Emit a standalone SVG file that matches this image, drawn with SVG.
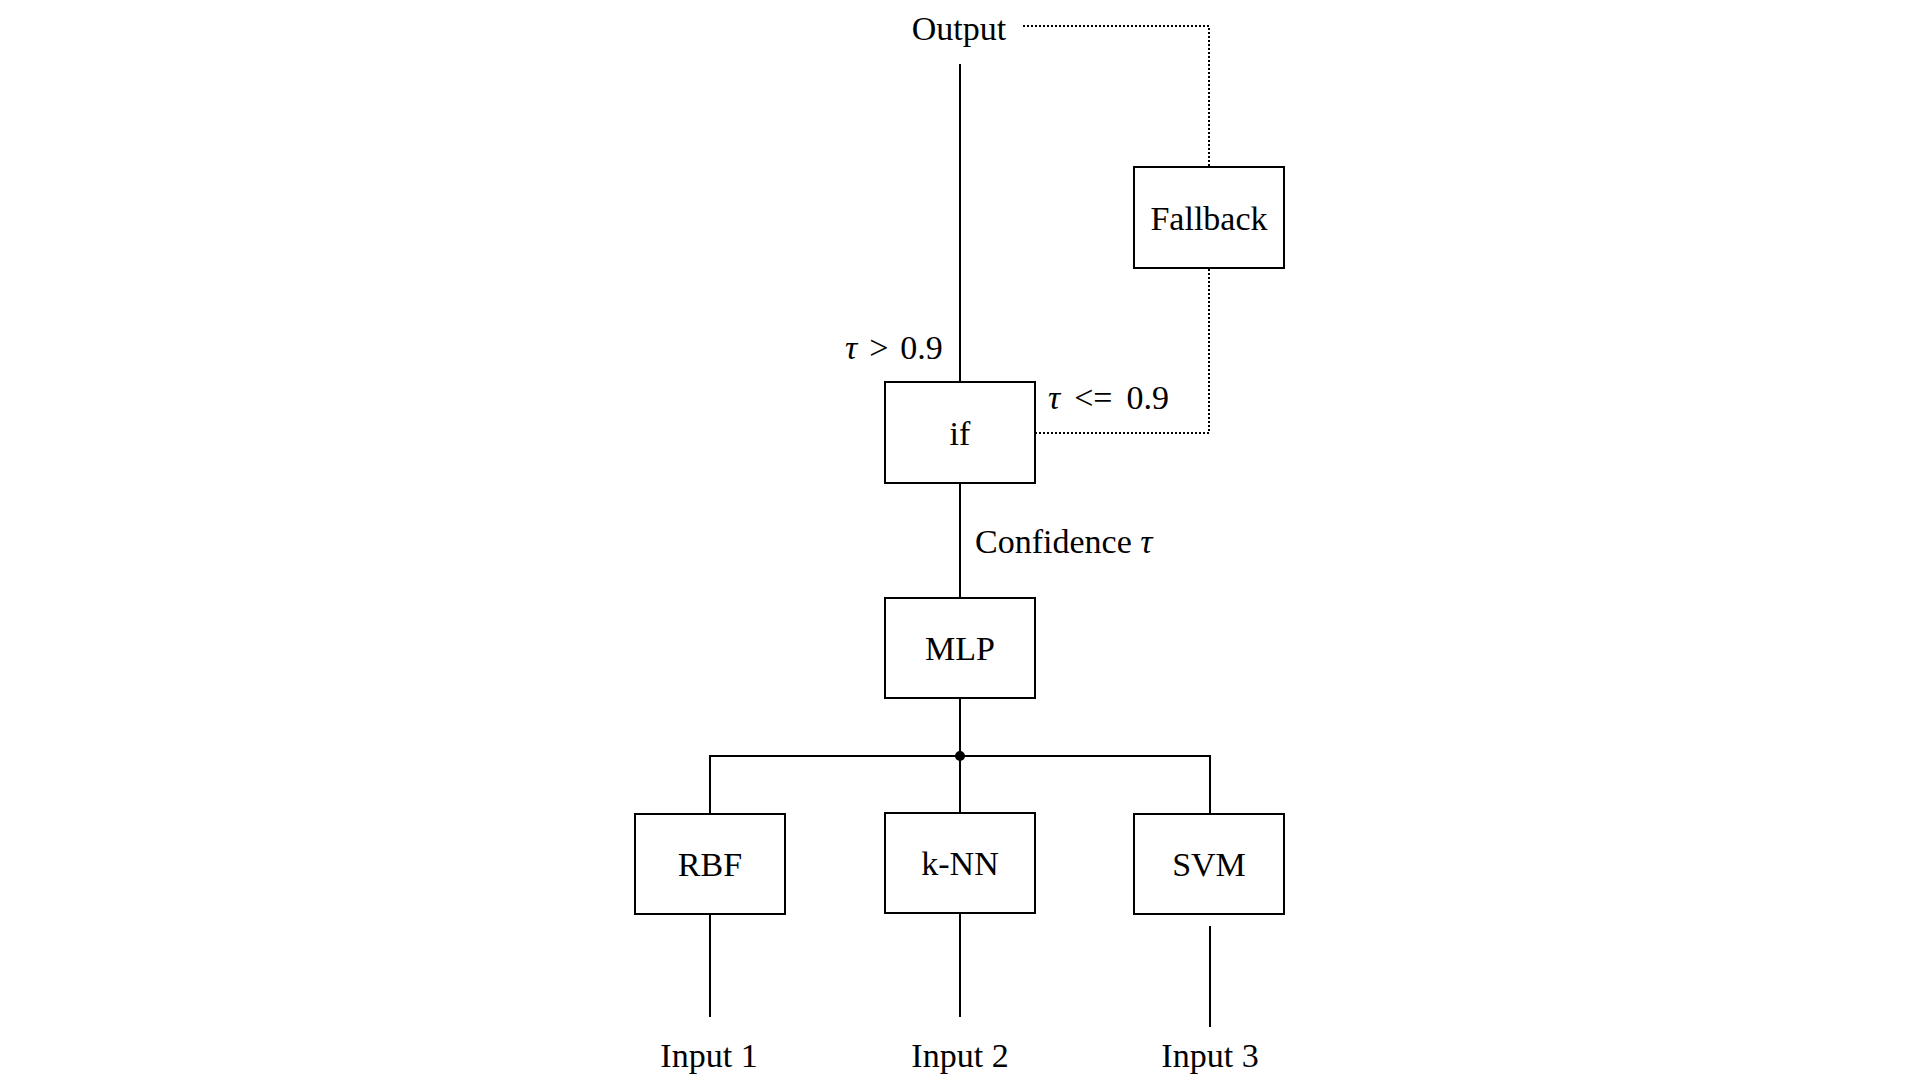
<svg xmlns="http://www.w3.org/2000/svg" width="1920" height="1080" viewBox="0 0 1920 1080">
<style>
text{font-family:"Liberation Serif","Times New Roman",serif;font-size:34px;fill:#000}
.box{fill:#fff;stroke:#000;stroke-width:2}
.c{text-anchor:middle}
.solid{fill:none;stroke:#000;stroke-width:2}
.dot{fill:none;stroke:#000;stroke-width:2;stroke-dasharray:2 2}
</style>
<rect width="1920" height="1080" fill="#fff"/>
<g id="connectors">
<line class="solid" x1="960" y1="64" x2="960" y2="382"/>
<path class="dot" d="M1023 26 H1209 V167"/>
<path class="dot" d="M1035 433 H1209 V268"/>
<line class="solid" x1="960" y1="483" x2="960" y2="598"/>
<line class="solid" x1="960" y1="698" x2="960" y2="813"/>
<path class="solid" d="M710 813 V756 H1210 V813"/>
<circle cx="960" cy="756" r="5" fill="#000"/>
<line class="solid" x1="710" y1="914" x2="710" y2="1017"/>
<line class="solid" x1="960" y1="913" x2="960" y2="1017"/>
<line class="solid" x1="1210" y1="926" x2="1210" y2="1027"/>
<text x="845" y="359"><tspan font-style="italic">τ</tspan><tspan dx="12">&gt;</tspan><tspan dx="12">0.9</tspan></text>
<text x="1048" y="409"><tspan font-style="italic">τ</tspan><tspan dx="14">&lt;=</tspan><tspan dx="14">0.9</tspan></text>
<text x="975" y="553">Confidence <tspan font-style="italic">τ</tspan></text>
</g>
<g id="output"><text class="c" x="959" y="40">Output</text></g>
<g id="fallback"><rect class="box" x="1134" y="167" width="150" height="101"/><text class="c" x="1209" y="230">Fallback</text></g>
<g id="if"><rect class="box" x="885" y="382" width="150" height="101"/><text class="c" x="960" y="445">if</text></g>
<g id="mlp"><rect class="box" x="885" y="598" width="150" height="100"/><text class="c" x="960" y="660">MLP</text></g>
<g id="rbf"><rect class="box" x="635" y="814" width="150" height="100"/><text class="c" x="710" y="876">RBF</text></g>
<g id="knn"><rect class="box" x="885" y="813" width="150" height="100"/><text class="c" x="960" y="875">k-NN</text></g>
<g id="svm"><rect class="box" x="1134" y="814" width="150" height="100"/><text class="c" x="1209" y="876">SVM</text></g>
<g id="input1"><text class="c" x="709" y="1067">Input 1</text></g>
<g id="input2"><text class="c" x="960" y="1067">Input 2</text></g>
<g id="input3"><text class="c" x="1210" y="1067">Input 3</text></g>
</svg>
